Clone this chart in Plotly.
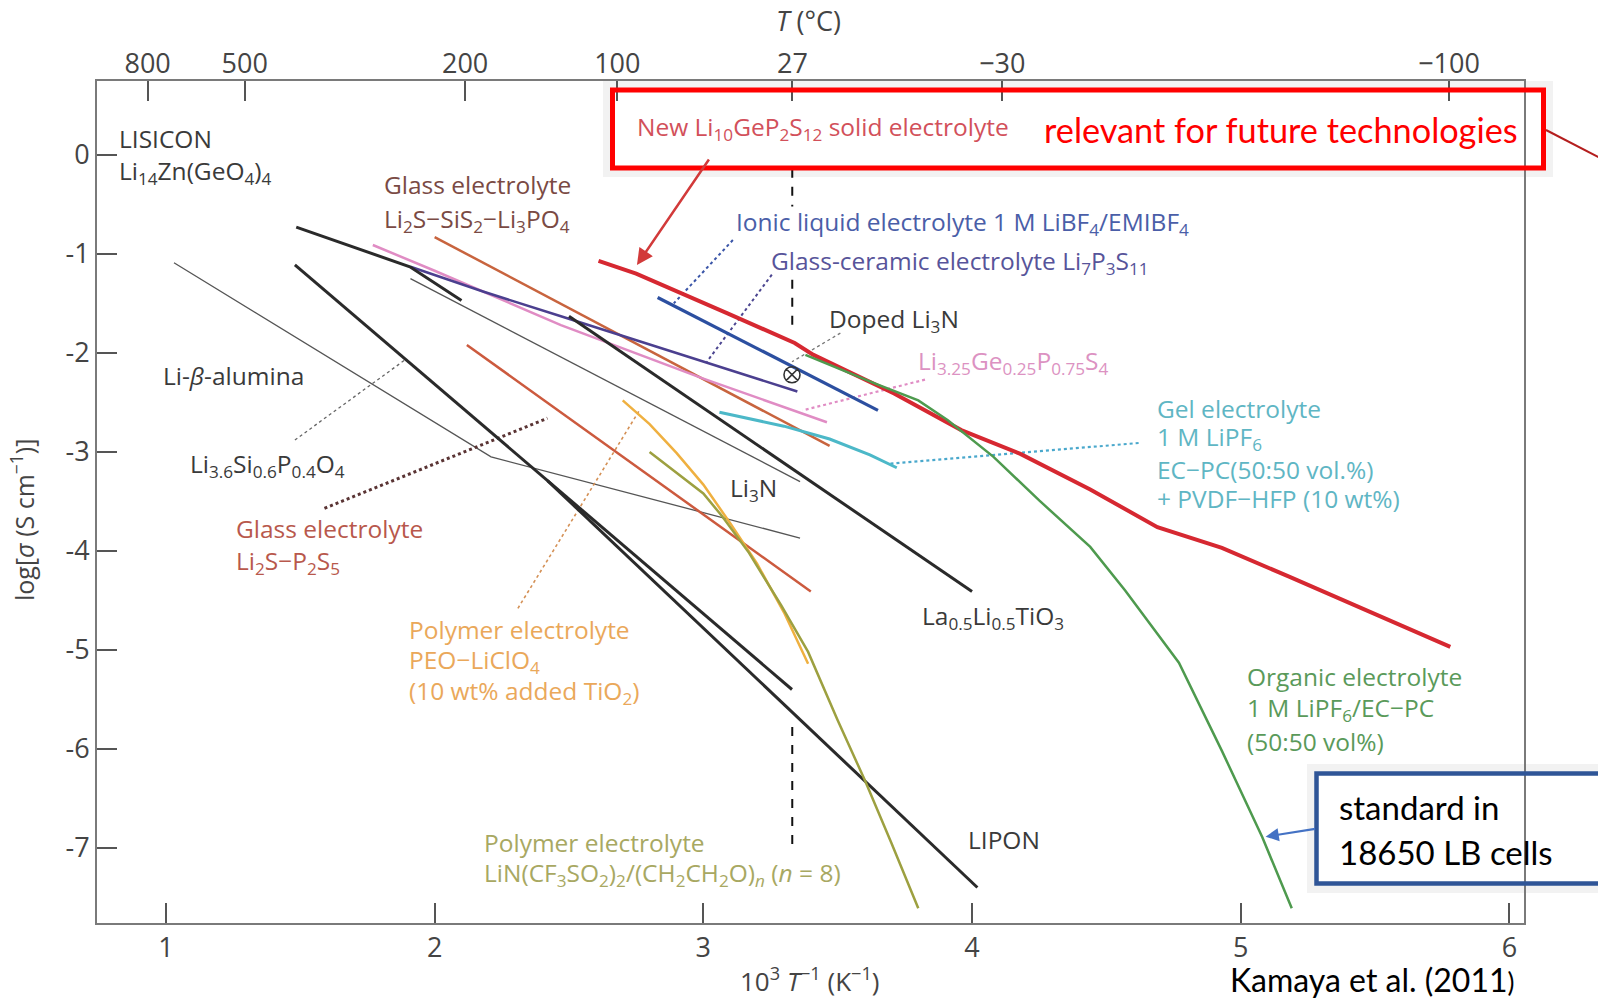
import plotly.graph_objects as go

# ---------------- data: x = 1000/T (K^-1), y = log10(sigma / S cm^-1) ----------------
lgps_x = [2.61, 2.75, 3.09, 3.34, 3.41, 3.71, 3.96, 4.18, 4.44, 4.69, 4.93, 5.18, 5.78]
lgps_y = [-1.07, -1.20, -1.60, -1.90, -2.02, -2.41, -2.78, -3.02, -3.38, -3.76, -3.97, -4.26, -4.97]

organic_x = [3.38, 3.64, 3.80, 3.91, 4.08, 4.25, 4.44, 4.57, 4.77, 4.93, 5.08, 5.19]
organic_y = [-2.02, -2.31, -2.48, -2.68, -3.05, -3.49, -3.96, -4.40, -5.13, -6.02, -6.89, -7.61]

ionic_x = [2.83, 3.65]
ionic_y = [-1.44, -2.58]

glassceramic_x = [1.91, 2.18, 2.47, 3.00, 3.35]
glassceramic_y = [-1.13, -1.38, -1.63, -2.09, -2.39]

thiolisicon_x = [1.77, 2.00, 2.47, 3.00, 3.46]
thiolisicon_y = [-0.91, -1.17, -1.72, -2.26, -2.70]

glass_sis2_x = [2.00, 3.47]
glass_sis2_y = [-0.83, -2.94]

llto_x = [2.50, 4.00]
llto_y = [-1.63, -4.41]

lisipo_x = [1.91, 3.36]
lisipo_y = [-1.25, -3.30]

beta_x = [1.03, 2.21, 3.36]
beta_y = [-1.09, -3.05, -3.87]

lisicon_x = [1.485, 1.908, 2.10]
lisicon_y = [-0.73, -1.13, -1.47]

li3n_x = [1.48, 3.33]
li3n_y = [-1.11, -5.40]

lipon_x = [2.42, 4.02]
lipon_y = [-3.29, -7.40]

glass_p2s5_x = [2.12, 3.40]
glass_p2s5_y = [-1.92, -4.41]

peo_x = [2.70, 2.80, 2.90, 3.00, 3.10, 3.20, 3.30, 3.39]
peo_y = [-2.48, -2.72, -3.01, -3.33, -3.72, -4.13, -4.62, -5.14]

peo_tfsi_x = [2.80, 3.00, 3.07, 3.17, 3.29, 3.39, 3.50, 3.60, 3.70, 3.80]
peo_tfsi_y = [-3.00, -3.42, -3.65, -4.02, -4.55, -5.02, -5.71, -6.31, -6.95, -7.61]

gel_x = [3.06, 3.11, 3.30, 3.47, 3.62, 3.72]
gel_y = [-2.60, -2.63, -2.74, -2.87, -3.03, -3.16]

doped_li3n_x = [3.33]
doped_li3n_y = [-2.22]

# 27 degC reference (dashed, three visible pieces)
rt_x = [3.331, 3.331, None, 3.331, 3.331, None, 3.331, 3.331]
rt_y = [-0.14, -0.52, None, -1.26, -1.77, None, -5.78, -6.97]

# dotted leader lines (label -> curve)
lead_ionic_x, lead_ionic_y = [3.11, 2.89], [-0.86, -1.50]
lead_gc_x, lead_gc_y = [3.255, 3.013], [-1.21, -2.09]
lead_doped_x, lead_doped_y = [3.51, 3.33], [-1.80, -2.09]
lead_thio_x, lead_thio_y = [3.825, 3.37], [-2.27, -2.58]
lead_gel_x, lead_gel_y = [4.62, 3.69], [-2.91, -3.12]
lead_lisipo_x, lead_lisipo_y = [1.48, 1.89], [-2.88, -2.07]
lead_p2s5_x, lead_p2s5_y = [1.59, 2.42], [-3.57, -2.66]
lead_peo_x, lead_peo_y = [2.31, 2.76], [-4.58, -2.59]

# axes ticks
top_temps = [800, 500, 200, 100, 27, -30, -100]
top_labels = ["800", "500", "200", "100", "27", "\u221230", "\u2212100"]
bottom_ticks = [1, 2, 3, 4, 5, 6]
left_ticks = [0, -1, -2, -3, -4, -5, -6, -7]
left_labels = ["0", "-1", "-2", "-3", "-4", "-5", "-6", "-7"]

# ---------------- layout geometry ----------------
FW, FH = 1598, 1001
L, R, T, B = 97, 1524, 81, 923
x_range = [0.7435, 6.0543]
y_range = [-7.7586, 0.7465]

LABEL_FONT = "Open Sans"
NOTE_FONT = "Lato"
LS = 24.5


def pxp(xp):
    return (xp - L) / (R - L)


def pyp(yp):
    return (B - yp) / (B - T)


fig = go.Figure()


def add_line(x, y, color, width, dash="solid"):
    fig.add_trace(go.Scatter(x=x, y=y, mode="lines", line=dict(color=color, width=width, dash=dash),
                             hoverinfo="skip", showlegend=False, connectgaps=False))


# thin gray lines
add_line(beta_x, beta_y, "#555555", 1.3)
add_line(lisipo_x, lisipo_y, "#555555", 1.3)
# leader lines
add_line(lead_lisipo_x, lead_lisipo_y, "#666666", 1.3, "dot")
add_line(lead_p2s5_x, lead_p2s5_y, "#5a3434", 3, "dot")
add_line(lead_peo_x, lead_peo_y, "#d49055", 1.6, "dot")
add_line(lead_ionic_x, lead_ionic_y, "#3a55a8", 2, "dot")
add_line(lead_gc_x, lead_gc_y, "#4b4590", 2, "dot")
add_line(lead_doped_x, lead_doped_y, "#777777", 1.3, "dot")
add_line(lead_thio_x, lead_thio_y, "#e08cc4", 2.2, "dot")
add_line(lead_gel_x, lead_gel_y, "#4aa8cc", 2.2, "dot")

# electrolyte curves
add_line(glass_p2s5_x, glass_p2s5_y, "#cc5a3e", 2.5)
add_line(glass_sis2_x, glass_sis2_y, "#c8643e", 2.5)
add_line(thiolisicon_x, thiolisicon_y, "#e08cc4", 2.5)
add_line(glassceramic_x, glassceramic_y, "#4b3f8f", 2.5)
add_line(lisicon_x, lisicon_y, "#2a2a2a", 3)
add_line(li3n_x, li3n_y, "#2a2a2a", 3)
add_line(lipon_x, lipon_y, "#2a2a2a", 3)
add_line(llto_x, llto_y, "#2a2a2a", 3)
add_line(peo_x, peo_y, "#efb040", 2.5)
add_line(peo_tfsi_x, peo_tfsi_y, "#9da040", 2.5)
add_line(gel_x, gel_y, "#4cb8c8", 3)
add_line(ionic_x, ionic_y, "#2c4fa0", 3.2)
add_line(lgps_x, lgps_y, "#d62831", 4)
add_line(organic_x, organic_y, "#4e9a4e", 2.5)

fig.add_trace(go.Scatter(x=doped_li3n_x, y=doped_li3n_y, mode="markers",
                         marker=dict(symbol="circle-x-open", size=16, color="#333333",
                                     line=dict(width=1.6, color="#333333")),
                         hoverinfo="skip", showlegend=False))

add_line(rt_x, rt_y, "#111111", 2, "dash")

# invisible trace on the top axis
fig.add_trace(go.Scatter(x=[x_range[0]], y=[y_range[0]], xaxis="x2", mode="markers",
                         marker=dict(opacity=0), hoverinfo="skip", showlegend=False))

ann = []


def lab(text, xp, yp, color, size=LS, family=LABEL_FONT, xanchor="left", angle=0):
    ann.append(dict(x=pxp(xp), y=pyp(yp), xref="paper", yref="paper", text=text, showarrow=False,
                    xanchor=xanchor, yanchor="middle", textangle=angle,
                    font=dict(family=family, size=size, color=color)))


DARK = "#3a3a3a"
lab("LISICON", 117, 138, DARK)
lab("Li<sub>14</sub>Zn(GeO<sub>4</sub>)<sub>4</sub>", 117, 172, DARK)
lab("Glass electrolyte", 382, 185, "#7a4a44")
lab("Li<sub>2</sub>S\u2212SiS<sub>2</sub>\u2212Li<sub>3</sub>PO<sub>4</sub>", 382, 220, "#7a4a44")
lab("New Li<sub>10</sub>GeP<sub>2</sub>S<sub>12</sub> solid electrolyte", 635, 128, "#d2505a")
lab("Ionic liquid electrolyte 1 M LiBF<sub>4</sub>/EMIBF<sub>4</sub>", 734, 223, "#4a5ea8")
lab("Glass-ceramic electrolyte Li<sub>7</sub>P<sub>3</sub>S<sub>11</sub>", 769, 262, "#57549a")
lab("Doped Li<sub>3</sub>N", 827, 320, DARK)
lab("Li<sub>3.25</sub>Ge<sub>0.25</sub>P<sub>0.75</sub>S<sub>4</sub>", 916, 362, "#dc92c2")
lab("Li-<i>\u03b2</i>-alumina", 161, 376, DARK)
lab("Li<sub>3.6</sub>Si<sub>0.6</sub>P<sub>0.4</sub>O<sub>4</sub>", 188, 465, DARK)
GEL = "#5fb6c4"
lab("Gel electrolyte", 1155, 409, GEL)
lab("1 M LiPF<sub>6</sub>", 1155, 438, GEL)
lab("EC\u2212PC(50:50 vol.%)", 1155, 469, GEL)
lab("+ PVDF\u2212HFP (10 wt%)", 1155, 498, GEL)
lab("Li<sub>3</sub>N", 728, 489, DARK)
lab("Glass electrolyte", 234, 528, "#b8584c")
lab("Li<sub>2</sub>S\u2212P<sub>2</sub>S<sub>5</sub>", 234, 562, "#b8584c")
lab("La<sub>0.5</sub>Li<sub>0.5</sub>TiO<sub>3</sub>", 920, 617, DARK)
PEOC = "#eaa85a"
lab("Polymer electrolyte", 407, 629, PEOC)
lab("PEO\u2212LiClO<sub>4</sub>", 407, 661, PEOC)
lab("(10 wt% added TiO<sub>2</sub>)", 407, 692, PEOC)
ORG = "#5a9a5a"
lab("Organic electrolyte", 1245, 676, ORG)
lab("1 M LiPF<sub>6</sub>/EC\u2212PC", 1245, 709, ORG)
lab("(50:50 vol%)", 1245, 741, ORG)
OLV = "#a8a862"
lab("Polymer electrolyte", 482, 842, OLV)
lab("LiN(CF<sub>3</sub>SO<sub>2</sub>)<sub>2</sub>/(CH<sub>2</sub>CH<sub>2</sub>O)<sub><i>n</i></sub> (<i>n</i> = 8)", 482, 874, OLV)
lab("LIPON", 966, 839, DARK)

# axis titles
lab("<i>T</i> (\u00b0C)", 808, 21, "#444444", size=27, xanchor="center")
lab("10<sup>3</sup> <i>T</i><sup>\u22121</sup> (K<sup>\u22121</sup>)", 810, 980, "#444444", size=26, xanchor="center")
lab("log[<i>\u03c3</i> (S cm<sup>\u22121</sup>)]", 22, 520, "#444444", size=25, xanchor="center", angle=-90)

# overlay notes
lab("relevant for future technologies", 1042, 130, "#ff0000", size=34.3, family=NOTE_FONT)
lab("standard in", 1337, 807, "#000000", size=33, family=NOTE_FONT)
lab("18650 LB cells", 1337, 852, "#000000", size=33, family=NOTE_FONT)
lab("Kamaya et al. (2011<span style='font-size:26px'>)</span>", 1228, 980, "#000000", size=32, family=NOTE_FONT)

# arrows
ann.append(dict(x=2.753, y=-1.112, xref="x", yref="y", ax=73, ay=-107, axref="pixel", ayref="pixel",
                text="", showarrow=True, arrowhead=2, arrowsize=1.3, arrowwidth=2.5, arrowcolor="#d23a3a"))
ann.append(dict(x=pxp(1265.6), y=pyp(836.7), xref="paper", yref="paper", ax=51, ay=-8,
                text="", showarrow=True, arrowhead=2, arrowsize=1.2, arrowwidth=2.2, arrowcolor="#4472c4"))

shapes = []
# red box with soft shadow
shapes.append(dict(type="rect", xref="paper", yref="paper", x0=pxp(608), x1=pxp(1548), y0=pyp(172), y1=pyp(86),
                   line=dict(color="rgba(0,0,0,0.05)", width=10), fillcolor="rgba(0,0,0,0)", layer="below"))
shapes.append(dict(type="rect", xref="paper", yref="paper", x0=pxp(612.5), x1=pxp(1543.5), y0=pyp(168), y1=pyp(90),
                   line=dict(color="#ff0000", width=5), fillcolor="rgba(0,0,0,0)"))
shapes.append(dict(type="line", xref="paper", yref="paper", x0=pxp(1546), x1=pxp(1600), y0=pyp(130), y1=pyp(158),
                   line=dict(color="#b41e1e", width=2)))
# blue box
shapes.append(dict(type="rect", xref="paper", yref="paper", x0=pxp(1312), x1=pxp(1640), y0=pyp(888), y1=pyp(769),
                   line=dict(color="rgba(0,0,0,0.05)", width=10), fillcolor="rgba(0,0,0,0)", layer="below"))
shapes.append(dict(type="rect", xref="paper", yref="paper", x0=pxp(1316.5), x1=pxp(1640), y0=pyp(883.5), y1=pyp(773.5),
                   line=dict(color="#2f5597", width=4.5), fillcolor="rgba(0,0,0,0)"))

AX = "#7a7a7a"
TF = dict(family=LABEL_FONT, size=27, color="#444444")
fig.update_layout(
    width=FW, height=FH,
    margin=dict(l=L, r=FW - R, t=T, b=FH - B, autoexpand=False),
    paper_bgcolor="white", plot_bgcolor="white",
    showlegend=False,
    xaxis=dict(range=x_range, tickvals=bottom_ticks, ticktext=[str(v) for v in bottom_ticks],
               ticks="inside", ticklen=20, tickwidth=1.8, tickcolor="#555555",
               showline=True, linecolor=AX, linewidth=2, mirror=True,
               showgrid=False, zeroline=False, tickfont=TF),
    xaxis2=dict(range=x_range, overlaying="x", side="top",
                tickvals=[1000.0 / (t + 273.15) for t in top_temps], ticktext=top_labels,
                ticks="inside", ticklen=20, tickwidth=1.8, tickcolor="#555555",
                showline=False, showgrid=False, zeroline=False, tickfont=TF,
                ticklabelstandoff=2),
    yaxis=dict(range=y_range, tickvals=left_ticks, ticktext=left_labels,
               ticks="inside", ticklen=20, tickwidth=1.8, tickcolor="#555555",
               showline=True, linecolor=AX, linewidth=2, mirror=True,
               showgrid=False, zeroline=False, tickfont=TF),
    annotations=ann,
    shapes=shapes,
)

fig.write_html("out.html")
